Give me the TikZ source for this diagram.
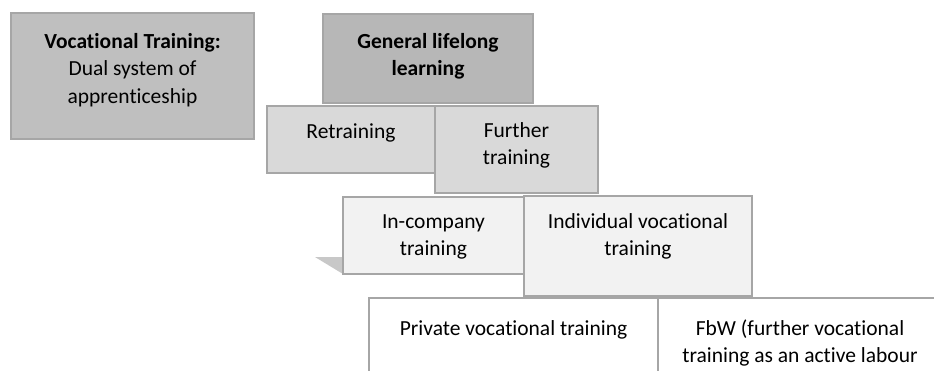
\documentclass[tikz,border=0pt]{standalone}
\usepackage{fontspec}
\setmainfont{Carlito}[RawFeature={-liga}]
\usetikzlibrary{calc}

\definecolor{edge}{HTML}{A6A6A6}
\definecolor{tierA}{HTML}{BFBFBF}
\definecolor{tierB}{HTML}{B7B7B7}
\definecolor{tierC}{HTML}{D9D9D9}
\definecolor{tierD}{HTML}{F2F2F2}
\definecolor{flap}{HTML}{C8C8C8}

% strut that fixes the height of a first text line
\newcommand{\firstline}{\rule{0pt}{20pt}}

\tikzset{
  box/.style={draw=edge, line width=2pt, outer sep=0pt, inner sep=0pt, anchor=north west},
  label text/.style={font=\fontsize{21.5}{27.5}\selectfont, align=center, inner sep=0pt, anchor=north, text=black},
}

\begin{document}
\begin{tikzpicture}[x=1pt, y=-1pt]
  \useasboundingbox (0,0) rectangle (934,370);
  \fill[white] (0,0) rectangle (934,370);

  % top level
  \node[box, fill=tierA, minimum width=243pt, minimum height=126pt] (voc) at (11,13) {};
  \node[box, fill=tierB, minimum width=210pt, minimum height=89pt] (general) at (323,14) {};

  % second level
  \node[box, fill=tierC, minimum width=168pt, minimum height=67pt] (retrain) at (267,106) {};
  \node[box, fill=tierC, minimum width=163pt, minimum height=87pt] (further) at (435,106) {};

  % third level, with the folded corner at the left
  \node[box, draw=none, minimum width=181pt, minimum height=77pt] (company) at (343,197) {};
  \fill[flap] (company.south west) -- ++(0,-17) -- ++(-28,0) -- cycle;
  \node[box, fill=tierD, minimum width=181pt, minimum height=77pt] at (343,197) {};
  \node[box, fill=tierD, minimum width=228pt, minimum height=100pt] (individual) at (524,196) {};

  % bottom level, running past the lower and right edges
  \node[box, fill=white, minimum width=289pt, minimum height=90pt] (private) at (369,298) {};
  \node[box, fill=white, minimum width=284pt, minimum height=90pt] (fbw) at (658,298) {};

  % texts
  \node[label text] (t-voc) at ($(voc.north)+(0,15)$)
    {\firstline\textbf{Vocational Training:}\\Dual system of\\apprenticeship};
  \node[label text] (t-general) at ($(general.north)+(0,14)$)
    {\firstline\textbf{General lifelong}\\\textbf{learning}};
  \node[label text] (t-retrain) at ($(retrain.north)+(0,12)$)
    {\firstline Retraining};
  \node[label text] (t-further) at ($(further.north)+(0,11)$)
    {\firstline Further\\training};
  \node[label text] (t-company) at ($(company.north)+(0,11)$)
    {\firstline In-company\\training};
  \node[label text] (t-individual) at ($(individual.north)+(0,12)$)
    {\firstline Individual vocational\\training};
  \node[label text] (t-private) at ($(private.north)+(0,17)$)
    {\firstline Private vocational training};
  \node[label text] (t-fbw) at ($(fbw.north)+(0,17)$)
    {\firstline FbW (further vocational\\training as an active labour};
\end{tikzpicture}
\end{document}
